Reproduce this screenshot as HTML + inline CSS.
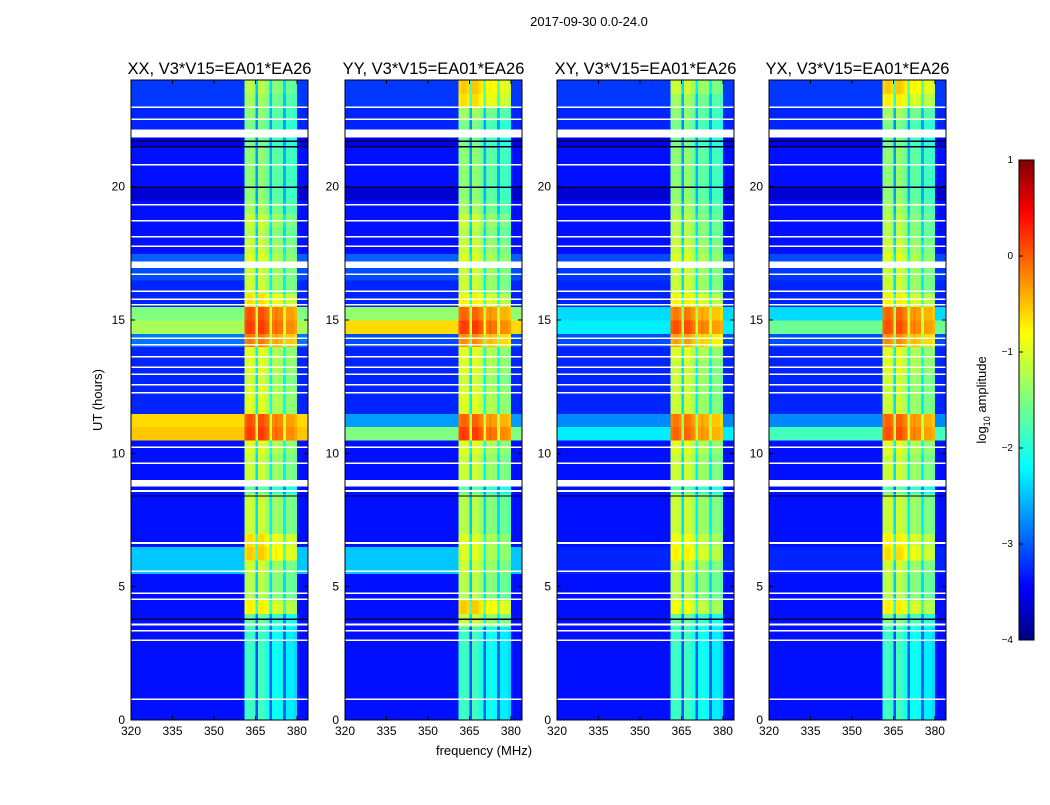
<!DOCTYPE html>
<html><head><meta charset="utf-8">
<style>
body{margin:0;background:#fff;width:1050px;height:800px;overflow:hidden;font-family:"Liberation Sans",sans-serif}
svg text{font-family:"Liberation Sans",sans-serif}
</style></head>
<body>
<svg id="chart" width="1050" height="800" xmlns="http://www.w3.org/2000/svg" shape-rendering="crispEdges">
<defs>
<linearGradient id="jet" x1="0" y1="1" x2="0" y2="0">
<stop offset="0" stop-color="#00007f"/><stop offset="0.11" stop-color="#0000ff"/>
<stop offset="0.36" stop-color="#00ffff"/><stop offset="0.5" stop-color="#7fff7f"/>
<stop offset="0.64" stop-color="#ffff00"/><stop offset="0.89" stop-color="#ff0000"/>
<stop offset="1" stop-color="#7f0000"/></linearGradient>
</defs>
<text x="589" y="26" font-size="13" text-anchor="middle">2017-09-30 0.0-24.0</text>
<text transform="translate(102,400) rotate(-90)" font-size="13" text-anchor="middle">UT (hours)</text>
<text x="484" y="755" font-size="13" text-anchor="middle">frequency (MHz)</text>
<g id="panels"></g>
<rect x="1019" y="160" width="15" height="480" fill="url(#jet)" stroke="#000"/>
<g id="cbticks"></g>
<text transform="translate(986,400) rotate(-90)" font-size="13" text-anchor="middle">log<tspan font-size="9" dy="4">10</tspan><tspan dy="-4"> amplitude</tspan></text>
</svg>
<script>
const titles=["XX, V3*V15=EA01*EA26","YY, V3*V15=EA01*EA26","XY, V3*V15=EA01*EA26","YX, V3*V15=EA01*EA26"];
const xTicks=[320,335,350,365,380];
const yTicks=[0,5,10,15,20];
const cbTicks=[1,0,-1,-2,-3,-4];
// background log-amplitude per half-hour bin (0..24h)
const bgXX=[-3.3,-3.3,-3.3,-3.3,-3.3,-3.3,-3.3,-3.3,-3.3,-3.3,-3.3,-2.4,-2.4,-3.3,-3.3,-3.3,-3.3,-3.3,-3.3,-3.3,-3.3,-0.6,-0.7,-3.2,-3.2,-3.2,-3.2,-3.2,-2.8,-1.3,-1.5,-3.2,-3.2,-3.0,-2.9,-3.3,-3.3,-3.3,-3.3,-3.6,-3.3,-3.3,-3.3,-3.5,-3.2,-3.2,-3.1,-3.1];
const bgYY=[-3.3,-3.3,-3.3,-3.3,-3.3,-3.3,-3.3,-3.3,-3.3,-3.3,-3.3,-2.4,-2.4,-3.3,-3.3,-3.3,-3.3,-3.3,-3.3,-3.3,-3.3,-1.5,-2.6,-3.2,-3.2,-3.2,-3.2,-3.2,-3.0,-0.7,-1.4,-3.2,-3.2,-3.0,-2.9,-3.3,-3.3,-3.3,-3.3,-3.6,-3.3,-3.3,-3.3,-3.5,-3.2,-3.2,-3.1,-3.1];
const bgXY=[-3.3,-3.3,-3.3,-3.3,-3.3,-3.3,-3.3,-3.3,-3.3,-3.3,-3.3,-3.2,-3.2,-3.3,-3.3,-3.3,-3.3,-3.3,-3.3,-3.3,-3.3,-2.2,-2.7,-3.2,-3.2,-3.2,-3.2,-3.2,-3.0,-2.2,-2.3,-3.2,-3.2,-3.1,-3.0,-3.3,-3.3,-3.3,-3.3,-3.6,-3.3,-3.3,-3.3,-3.5,-3.2,-3.2,-3.1,-3.1];
const bgYX=[-3.3,-3.3,-3.3,-3.3,-3.3,-3.3,-3.3,-3.3,-3.3,-3.3,-3.3,-3.2,-3.2,-3.3,-3.3,-3.3,-3.3,-3.3,-3.3,-3.3,-3.3,-1.8,-2.7,-3.2,-3.2,-3.2,-3.2,-3.2,-3.0,-1.6,-2.3,-3.2,-3.2,-3.1,-3.0,-3.3,-3.3,-3.3,-3.3,-3.6,-3.3,-3.3,-3.3,-3.5,-3.2,-3.2,-3.1,-3.1];
// RFI band (361-380 MHz) log-amplitude per half-hour bin
const rfiXX=[-2.0,-2.0,-2.0,-2.0,-2.0,-2.0,-2.0,-1.8,-1.0,-1.4,-1.4,-1.3,-0.8,-0.9,-1.3,-1.3,-1.3,-1.8,-1.3,-1.3,-1.2,-0.1,-0.2,-1.2,-1.2,-1.3,-1.2,-1.2,-0.4,-0.1,-0.2,-0.9,-1.3,-1.3,-1.2,-1.3,-1.4,-1.3,-1.5,-1.6,-1.6,-1.6,-1.6,-1.7,-1.7,-1.6,-1.5,-1.4];
const rfiYY=[-2.0,-2.0,-2.0,-2.0,-2.0,-2.0,-2.0,-1.3,-0.8,-1.4,-1.4,-1.3,-1.2,-1.2,-1.4,-1.4,-1.4,-1.8,-1.3,-1.3,-1.2,-0.1,-0.3,-1.2,-1.2,-1.3,-1.2,-1.2,-0.5,-0.1,-0.3,-1.0,-1.3,-1.3,-1.2,-1.3,-1.4,-1.3,-1.5,-1.6,-1.6,-1.6,-1.6,-1.7,-1.7,-1.5,-0.9,-0.8];
const rfiXY=[-2.0,-2.0,-2.0,-2.0,-2.0,-2.0,-2.0,-1.8,-1.1,-1.4,-1.4,-1.3,-1.0,-1.1,-1.3,-1.3,-1.3,-1.8,-1.3,-1.3,-1.2,-0.3,-0.4,-1.3,-1.3,-1.3,-1.3,-1.2,-0.6,-0.2,-0.4,-1.0,-1.3,-1.3,-1.2,-1.3,-1.4,-1.4,-1.5,-1.6,-1.6,-1.6,-1.6,-1.7,-1.7,-1.6,-1.5,-1.3];
const rfiYX=[-2.0,-2.0,-2.0,-2.0,-2.0,-2.0,-2.0,-1.7,-1.0,-1.4,-1.4,-1.3,-0.9,-1.0,-1.3,-1.3,-1.3,-1.8,-1.3,-1.3,-1.2,-0.2,-0.3,-1.3,-1.3,-1.3,-1.2,-1.2,-0.5,-0.2,-0.3,-1.0,-1.3,-1.3,-1.2,-1.3,-1.4,-1.4,-1.5,-1.6,-1.6,-1.6,-1.6,-1.7,-1.7,-1.5,-1.0,-0.8];
// per-MHz column offsets within the RFI band, 361..379 MHz
const rfiFreqs=[361,362,363,364,365,366,367,368,369,370,371,372,373,374,375,376,377,378,379];
const rfiOffsets=[0.1,0.2,0.2,0.1,-1.0,0.2,0.2,0.1,0.0,-0.9,-0.1,0.0,-0.1,-0.1,-0.9,-0.2,-0.2,-0.2,-0.3];
// flagged (white) time ranges [start,end] hours
const flagStart=[0.75,2.97,3.32,3.55,4.5,4.72,5.55,6.6,8.55,8.75,9.6,10.2,12.25,12.55,12.95,13.2,13.6,14.05,14.3,15.55,15.75,16.05,16.7,16.95,17.75,18.1,18.7,19.3,20.8,21.85,22.5,22.95];
const flagEnd=[0.8,3.02,3.37,3.62,4.56,4.78,5.6,6.68,8.62,9.0,9.65,10.25,12.3,12.6,13.0,13.25,13.65,14.1,14.35,15.6,15.8,16.1,16.75,17.2,17.8,18.15,18.75,19.35,20.85,22.15,22.55,23.0];
// dark lines (hours)
const darkLines=[3.78,8.4,19.98,21.5,21.7];

const bgs=[bgXX,bgYY,bgXY,bgYX], rfis=[rfiXX,rfiYY,rfiXY,rfiYX];
const X0=[131,345,557,769], PW=177, YT=80, YB=720;
const NS="http://www.w3.org/2000/svg";
function jet(v){let t=Math.max(0,Math.min(1,(v+4)/5));
 const c=x=>Math.round(255*Math.max(0,Math.min(1,x)));
 const r=c(1.5-Math.abs(4*t-3)),g=c(1.5-Math.abs(4*t-2)),b=c(1.5-Math.abs(4*t-1));
 return `rgb(${r},${g},${b})`;}
function el(tag,attrs,parent){const e=document.createElementNS(NS,tag);for(const k in attrs)e.setAttribute(k,attrs[k]);parent.appendChild(e);return e;}
const panels=document.getElementById('panels');
for(let p=0;p<4;p++){
 const x0=X0[p];
 const xs=f=>x0+(f-320)*PW/64;
 const ys=h=>YB-h*(YB-YT)/24;
 const g=el('g',{},panels);
 
 
 const bg=bgs[p], rf=rfis[p];
 for(let i=0;i<bg.length;i++){
  const y1=ys((i+1)*0.5), y2=ys(i*0.5);
  const r=el('rect',{x:x0,y:y1,width:PW,height:y2-y1+0.5,fill:jet(bg[i])},g);
  
  
  for(let j=0;j<rfiFreqs.length;j++){
   const c=el('rect',{x:xs(rfiFreqs[j]),y:y1,width:xs(rfiFreqs[j]+1)-xs(rfiFreqs[j])+0.3,height:y2-y1+0.5,fill:jet(rf[i]+rfiOffsets[j])},g);
   
   
  }
 }
 for(let k=0;k<flagStart.length;k++){
  const f=el('rect',{x:x0,y:ys(flagEnd[k]),width:PW,height:Math.max(1.5,ys(flagStart[k])-ys(flagEnd[k])),fill:'#fff'},g);
  
  
 }
 for(const h of darkLines){
  const d=el('rect',{x:x0,y:ys(h)-0.7,width:PW,height:1.4,fill:'#000040'},g);
  
  
 }
 const fr=el('rect',{x:x0,y:YT,width:PW,height:YB-YT,fill:'none',stroke:'#000','stroke-width':1},g);
 
 
 const t=el('text',{x:x0+PW/2,y:74,'font-size':16.5,'text-anchor':'middle'},g);t.textContent=titles[p];
 
 
 for(const v of xTicks){
  const x=xs(v);
  el('line',{x1:x,x2:x,y1:YB,y2:YB-4,stroke:'#000'},g);
  el('line',{x1:x,x2:x,y1:YT,y2:YT+4,stroke:'#000'},g);
  const tl=el('text',{x:x,y:YB+15,'font-size':12,'text-anchor':'middle'},g);tl.textContent=v;
  
  
 }
 for(const v of yTicks){
  const y=ys(v);
  el('line',{x1:x0,x2:x0+4,y1:y,y2:y,stroke:'#000'},g);
  el('line',{x1:x0+PW,x2:x0+PW-4,y1:y,y2:y,stroke:'#000'},g);
  const tl=el('text',{x:x0-6,y:y+4,'font-size':12,'text-anchor':'end'},g);tl.textContent=v;
  
  
 }
}
const cb=document.getElementById('cbticks');
for(const v of cbTicks){
 const y=640-(v+4)*96;
 el('line',{x1:1019,x2:1023,y1:y,y2:y,stroke:'#000'},cb);
 const tl=el('text',{x:1013,y:y+3,'font-size':10,'text-anchor':'end'},cb);
 tl.textContent=v<0?'\u2212'+(-v):String(v);
 
 
}
</script>
</body></html>
